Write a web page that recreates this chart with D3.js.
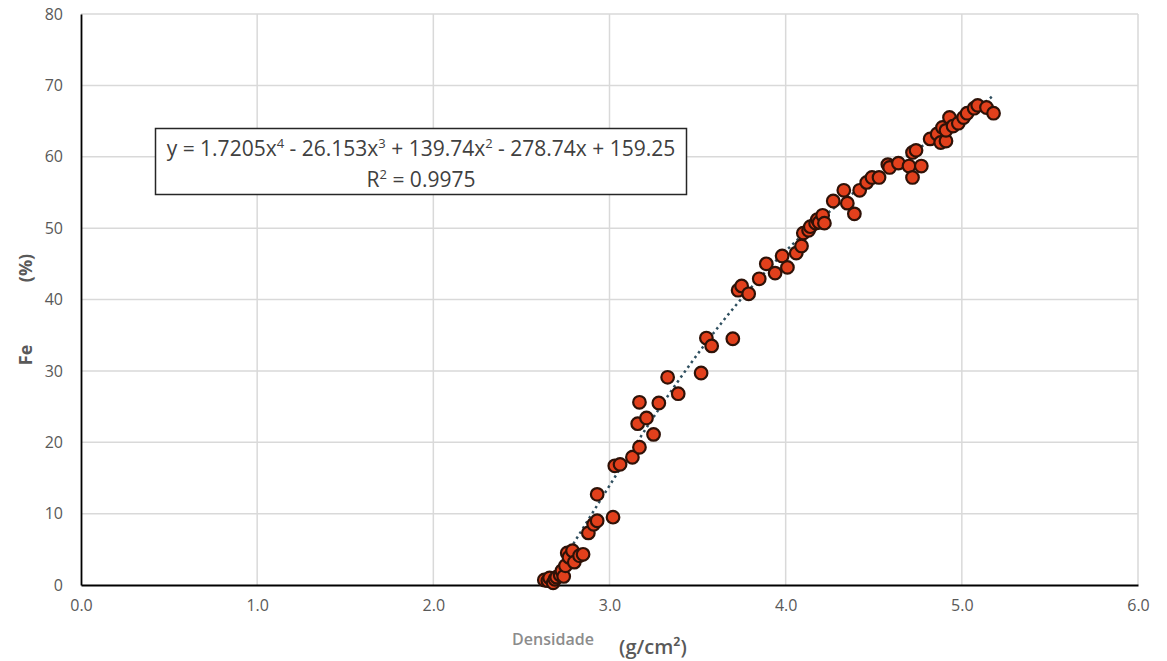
<!DOCTYPE html>
<html>
<head>
<meta charset="utf-8">
<script src="https://cdn.jsdelivr.net/npm/d3@7"></script>
<style>
  body { margin: 0; background: #fff; }
  text { font-family: 'Open Sans', 'Noto Sans', sans-serif; }
</style>
</head>
<body>
<div id="chart"></div>
<script>
// densidade (g/cm3) and Fe (%)
var densidade = [2.63, 2.65, 2.66, 2.68, 2.69, 2.70, 2.72, 2.73, 2.74, 2.75, 2.76, 2.77, 2.79, 2.80, 2.83, 2.85,
  2.88, 2.91, 2.93, 2.93, 3.02, 3.03, 3.06, 3.13, 3.17, 3.16, 3.21, 3.25, 3.17, 3.28, 3.33, 3.39, 3.52, 3.55, 3.58, 3.70,
  3.73, 3.75, 3.79, 3.85, 3.89, 3.94, 3.98, 4.01, 4.06, 4.09, 4.10, 4.13, 4.14, 4.17, 4.18, 4.19, 4.21, 4.22,
  4.27, 4.33, 4.35, 4.39, 4.42, 4.46, 4.49, 4.53, 4.58, 4.59, 4.64, 4.70, 4.72, 4.74, 4.77, 4.72,
  4.82, 4.86, 4.88, 4.91, 4.89, 4.91, 4.93, 4.95, 4.98, 5.01, 5.03, 5.07, 5.09, 5.14, 5.18];
var fe = [0.7, 0.6, 1.0, 0.3, 0.8, 1.1, 1.4, 2.0, 1.2, 2.7, 4.5, 3.9, 4.8, 3.2, 4.1, 4.3,
  7.3, 8.5, 9.0, 12.7, 9.5, 16.7, 16.9, 17.9, 19.3, 22.6, 23.4, 21.1, 25.6, 25.5, 29.1, 26.8, 29.7, 34.6, 33.5, 34.5,
  41.3, 41.9, 40.8, 42.9, 45.0, 43.7, 46.1, 44.5, 46.5, 47.5, 49.3, 49.7, 50.2, 50.7, 51.2, 50.8, 51.8, 50.7,
  53.8, 55.3, 53.5, 52.0, 55.3, 56.4, 57.1, 57.1, 58.9, 58.5, 59.1, 58.7, 60.6, 60.9, 58.7, 57.1,
  62.5, 63.2, 62.0, 62.2, 64.1, 63.7, 65.5, 64.3, 64.7, 65.5, 66.1, 66.8, 67.2, 66.9, 66.1];

var xTicks = [0, 1, 2, 3, 4, 5, 6];
var yTicks = [0, 10, 20, 30, 40, 50, 60, 70, 80];

// trendline coefficients, highest power first (from the equation label)
var coef = [1.7205, -26.153, 139.74, -278.74, 159.25];
var trendRange = [2.65, 5.17];

var width = 1167, height = 661;

var svg = d3.select('#chart').append('svg')
    .attr('width', width)
    .attr('height', height);

var x = d3.scaleLinear().domain([0, 6]).range([81, 1138]);
var y = d3.scaleLinear().domain([0, 80]).range([585, 14]);

// grid
svg.append('g')
  .selectAll('line')
  .data(xTicks.slice(1))
  .enter()
  .append('line')
  .attr('x1', function(d) { return x(d); })
  .attr('x2', function(d) { return x(d); })
  .attr('y1', y(80))
  .attr('y2', y(0))
  .style('stroke', '#d9d9d9')
  .style('stroke-width', 1.5);

svg.append('g')
  .selectAll('line')
  .data(yTicks.slice(1))
  .enter()
  .append('line')
  .attr('x1', x(0))
  .attr('x2', x(6))
  .attr('y1', function(d) { return y(d); })
  .attr('y2', function(d) { return y(d); })
  .style('stroke', '#d9d9d9')
  .style('stroke-width', 1.5);

// axes
var xAxis = d3.axisBottom(x)
    .tickValues(xTicks)
    .tickSize(0)
    .tickPadding(15)
    .tickFormat(d3.format('.1f'));

var yAxis = d3.axisLeft(y)
    .tickValues(yTicks)
    .tickSize(0)
    .tickPadding(18);

var gx = svg.append('g')
    .attr('transform', 'translate(0,' + y(0) + ')')
    .call(xAxis);
var gy = svg.append('g')
    .attr('transform', 'translate(' + x(0) + ',0)')
    .call(yAxis);

[gx, gy].forEach(function (g) {
  g.select('.domain').style('stroke', '#000').style('stroke-width', 1.8);
  g.selectAll('text')
    .style('font-size', '16px')
    .style('fill', '#595959')
    .style('font-family', "'Open Sans', sans-serif");
});

// trendline
var poly = function (v) {
  return coef.reduce(function (acc, c) { return acc * v + c; }, 0);
};
var trendX = d3.range(trendRange[0], trendRange[1] + 0.001, 0.01);
svg.append('path')
  .datum(trendX)
  .attr('d', d3.line()
    .x(function(d) { return x(d); })
    .y(function(d) { return y(poly(d)); }))
  .style('fill', 'none')
  .style('stroke', '#2f4f5f')
  .style('stroke-width', 2.5)
  .style('stroke-dasharray', '2.5,3.5');

// points
svg.append('g')
  .selectAll('circle')
  .data(densidade)
  .enter()
  .append('circle')
  .attr('cx', function(d) { return x(d); })
  .attr('cy', function(d, i) { return y(fe[i]); })
  .attr('r', 6.3)
  .style('fill', '#e2401c')
  .style('stroke', '#2e1208')
  .style('stroke-width', 2.2);

// equation box
svg.append('rect')
  .attr('x', 155.5)
  .attr('y', 128.5)
  .attr('width', 531)
  .attr('height', 66)
  .style('fill', '#fff')
  .style('stroke', '#262626')
  .style('stroke-width', 1.5);

// text with superscripts: [base, sup] pairs
var supText = function (xPos, yPos, parts) {
  var t = svg.append('text')
    .attr('x', xPos)
    .attr('y', yPos)
    .attr('text-anchor', 'middle')
    .style('font-size', '21px')
    .style('fill', '#404040');
  var shift = 0;
  parts.forEach(function (p) {
    t.append('tspan').attr('dy', -shift).text(p[0]);
    shift = 0;
    if (p[1]) {
      t.append('tspan').attr('dy', -8).style('font-size', '13px').text(p[1]);
      shift = -8;
    }
  });
  return t;
};

supText(421, 156, [['y = 1.7205x', '4'], [' - 26.153x', '3'], [' + 139.74x', '2'], [' - 278.74x + 159.25', '']]);
supText(421, 187, [['R', '2'], [' = 0.9975', '']]);

// axis titles
svg.append('text')
  .attr('x', 553)
  .attr('y', 645)
  .attr('text-anchor', 'middle')
  .style('font-size', '16px')
  .style('font-weight', 600)
  .style('fill', '#8c8c8c')
  .text('Densidade');

svg.append('text')
  .attr('x', 653)
  .attr('y', 654)
  .attr('text-anchor', 'middle')
  .style('font-size', '20px')
  .style('font-weight', 600)
  .style('fill', '#595959')
  .text('(g/cm²)');

svg.append('text')
  .attr('transform', 'translate(32,355) rotate(-90)')
  .attr('text-anchor', 'middle')
  .style('font-size', '18px')
  .style('font-weight', 'bold')
  .style('fill', '#595959')
  .text('Fe');

svg.append('text')
  .attr('transform', 'translate(32,268) rotate(-90)')
  .attr('text-anchor', 'middle')
  .style('font-size', '18px')
  .style('font-weight', 'bold')
  .style('fill', '#595959')
  .text('(%)');
</script>
</body>
</html>
